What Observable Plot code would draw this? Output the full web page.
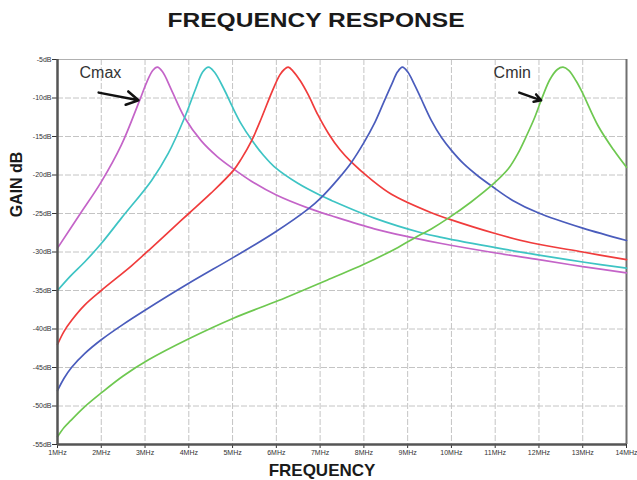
<!DOCTYPE html>
<html><head><meta charset="utf-8">
<script src="https://cdn.jsdelivr.net/npm/d3@7"></script>
<script src="https://cdn.jsdelivr.net/npm/@observablehq/plot@0.6"></script>
<style>
body{margin:0;background:#fff;font-family:"Liberation Sans",Arial,sans-serif;}
#title{height:40px;overflow:hidden;text-align:center;}
#title span{display:inline-block;font-weight:bold;font-size:21px;line-height:24px;transform:scaleX(1.17);margin-top:8px;color:#1a1a1a;margin-left:-6px;}
</style></head><body>
<div id="title"><span>FREQUENCY RESPONSE</span></div>
<div id="chart"></div>
<script>
const xTicks = [1,2,3,4,5,6,7,8,9,10,11,12,13,14];
const yTicks = [-5,-10,-15,-20,-25,-30,-35,-40,-45,-50,-55];

const magentaF = [1.0,1.5,2.0,2.46,2.87,3.05,3.18,3.28,3.4,3.6,3.9,4.29,4.65,5.02,5.43,6.0,6.73,7.26,8.24,9.08,9.77,10.98,12.0,13.0,14.0];
const magentaG = [-29.5,-25.2,-20.9,-16.1,-10.4,-7.8,-6.4,-6.0,-6.6,-8.9,-12.5,-15.6,-17.6,-19.2,-20.8,-22.6,-24.3,-25.3,-27.0,-28.1,-28.9,-30.1,-31.0,-31.9,-32.7];

const cyanF = [1.0,1.3,1.62,2.0,2.46,3.15,3.53,3.9,4.15,4.32,4.45,4.58,4.8,5.0,5.2,5.43,5.7,5.95,6.5,7.03,7.26,8.24,9.31,9.77,11.07,12.0,13.0,14.0];
const cyanG = [-35.0,-33.1,-31.3,-28.9,-25.6,-20.7,-17.2,-12.6,-8.9,-6.6,-6.0,-6.6,-8.8,-11.2,-13.4,-15.4,-17.4,-18.9,-21.1,-22.7,-23.3,-25.6,-27.5,-28.1,-29.5,-30.4,-31.3,-32.1];

const redF = [1.0,1.15,1.32,1.62,2.0,2.69,3.08,3.5,4.0,4.5,5.02,5.2,5.43,5.66,5.9,6.08,6.18,6.27,6.38,6.55,6.73,6.95,7.19,7.45,7.71,8.17,8.63,9.54,9.93,11.0,11.82,13.0,14.0];
const redG = [-42.0,-40.3,-38.9,-36.9,-35.0,-31.8,-29.8,-27.6,-25.0,-22.4,-19.4,-17.9,-15.6,-12.6,-9.2,-7.0,-6.3,-6.0,-6.5,-7.8,-9.6,-12.2,-14.6,-16.7,-18.3,-20.6,-22.5,-24.9,-25.7,-27.6,-28.8,-30.0,-31.0];

const blueF = [1.0,1.15,1.32,1.62,2.0,2.5,2.99,3.99,5.02,5.95,6.73,7.03,7.4,7.71,8.0,8.24,8.45,8.63,8.77,8.88,9.0,9.15,9.3,9.54,9.77,10.0,10.29,10.6,10.91,11.4,11.98,13.0,14.0];
const blueG = [-48.0,-46.4,-45.0,-43.2,-41.4,-39.4,-37.6,-34.1,-30.7,-27.5,-24.4,-22.9,-20.6,-18.4,-15.8,-13.3,-10.6,-8.3,-6.6,-6.0,-6.6,-8.2,-10.0,-12.9,-15.1,-16.8,-18.6,-20.1,-21.4,-23.3,-24.9,-26.9,-28.5];

const greenF = [1.0,1.15,1.3,1.6,2.0,2.5,3.08,3.99,5.02,6.05,7.26,8.0,8.78,9.15,9.54,9.93,10.45,10.95,11.3,11.52,11.7,11.89,12.07,12.25,12.42,12.55,12.68,12.85,13.0,13.35,13.7,14.0];
const greenG = [-54.0,-52.8,-51.9,-50.2,-48.3,-46.1,-44.0,-41.3,-38.6,-36.3,-33.4,-31.6,-29.4,-28.2,-27.0,-25.6,-23.5,-21.2,-19.2,-17.2,-15.1,-12.7,-10.0,-7.6,-6.3,-6.0,-6.4,-7.8,-9.4,-13.6,-16.7,-19.0];

const annoText = ["Cmax","Cmin"];
const annoX = [1.98, 11.39];
const annoY = [-6.8, -6.8];
const arrowX1 = [1.94, 11.55];
const arrowY1 = [-9.3, -9.3];
const arrowX2 = [2.85, 12.05];
const arrowY2 = [-10.3, -10.3];

const mk = (F,G) => F.map((f,i)=>({f, g:G[i]}));
const series = [
  {d: mk(magentaF, magentaG), c:"#c464c8"},
  {d: mk(cyanF, cyanG), c:"#3ec4c4"},
  {d: mk(redF, redG), c:"#f03c3c"},
  {d: mk(blueF, blueG), c:"#4a5cbc"},
  {d: mk(greenF, greenG), c:"#6ec850"}
];
const annos = annoText.map((t,i)=>({t, x:annoX[i], y:annoY[i]}));
const arrows = arrowX1.map((x1,i)=>({x1, y1:arrowY1[i], x2:arrowX2[i], y2:arrowY2[i]}));

const chart = Plot.plot({
  width: 637, height: 440,
  marginTop: 19, marginLeft: 57, marginRight: 11, marginBottom: 36,
  style: {fontFamily: "Liberation Sans, Arial, sans-serif", fontSize: "7px", color: "#333", background: "#fff"},
  x: {domain: [1,14], ticks: xTicks, tickFormat: d => d + "MHz", tickSize: 4, tickPadding: 2, label: null},
  y: {domain: [-55,-5], ticks: yTicks, tickFormat: d => d + "dB", tickSize: 5, tickPadding: 1, label: null},
  marks: [
    Plot.ruleX(xTicks, {stroke: "#c4c4c4", strokeWidth: 1, strokeDasharray: "6,2"}),
    Plot.ruleY(yTicks, {stroke: "#c4c4c4", strokeWidth: 1, strokeDasharray: "6,2"}),
    Plot.ruleY([-5], {stroke: "#b0b0b0", strokeWidth: 1}),
    Plot.ruleX([14], {stroke: "#707070", strokeWidth: 2}),
    ...series.map(s => Plot.line(s.d, {x: "f", y: "g", stroke: s.c, strokeWidth: 1.7, curve: "catmull-rom"})),
    Plot.ruleX([1], {stroke: "#555", strokeWidth: 2.5}),
    Plot.ruleY([-55], {stroke: "#555", strokeWidth: 2.5}),
    Plot.text(annos, {x: "x", y: "y", text: "t", fontSize: 16, fill: "#333"}),
    Plot.arrow(arrows, {x1: "x1", y1: "y1", x2: "x2", y2: "y2", stroke: "#111", strokeWidth: 2.5, headLength: 9, headAngle: 60}),
    Plot.text([{t: "GAIN dB", y: -25.5}], {y: "y", text: "t", frameAnchor: "left", rotate: -90, dx: -41, fontSize: 16, fontWeight: "bold", fill: "#1a1a1a"}),
    Plot.text([{t: "FREQUENCY"}], {text: "t", frameAnchor: "bottom", lineAnchor: "top", dy: 19, dx: -20, fontSize: 17, fontWeight: "bold", fill: "#1a1a1a"})
  ]
});
document.getElementById("chart").appendChild(chart);
</script>
</body></html>
